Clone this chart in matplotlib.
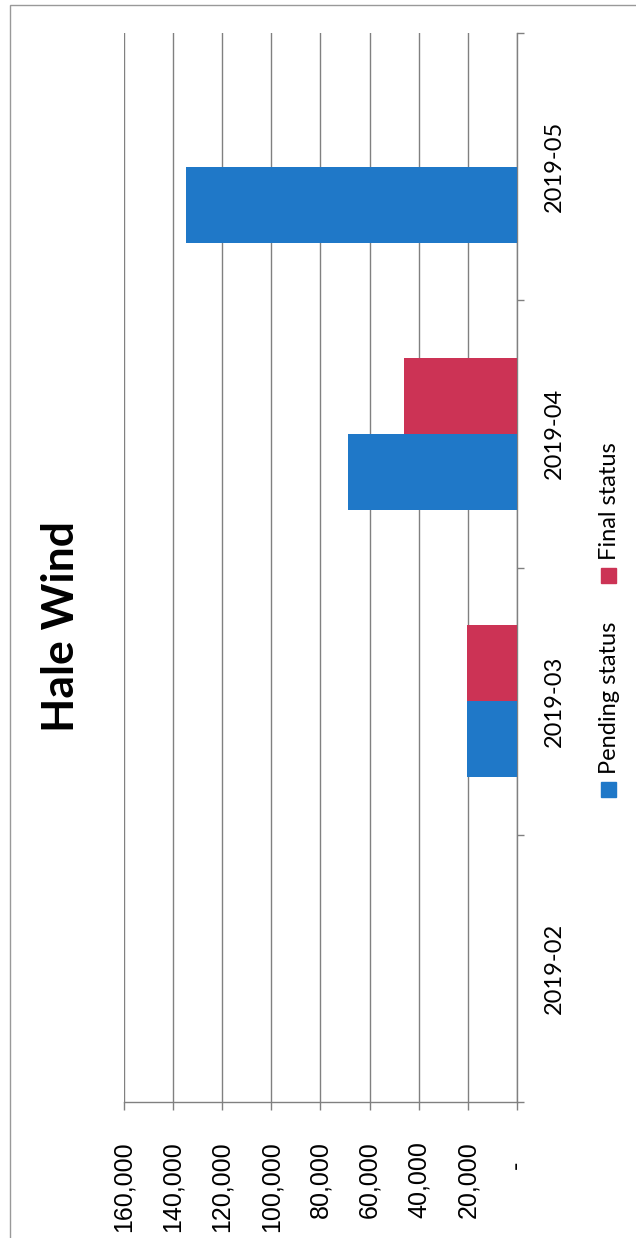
import matplotlib.pyplot as plt
from matplotlib.patches import Rectangle
import numpy as np

months = ['2019-02', '2019-03', '2019-04', '2019-05']
pending = [0, 20300, 68700, 134500]
final = [0, 20500, 45900, 0]
series_names = ['Pending status', 'Final status']
colors = ['#1F78C8', '#CC3355']
value_ticks = [0, 20000, 40000, 60000, 80000, 100000, 120000, 140000, 160000]
value_labels = ['-   ', '20,000', '40,000', '60,000', '80,000',
                '100,000', '120,000', '140,000', '160,000']

W, H = 636, 1238
fig = plt.figure(figsize=(W / 100, H / 100), dpi=100)

# scanned chart frame
fig.add_artist(Rectangle((10 / W, -0.05), 1.2, 1 - 5 / H + 0.05,
                         transform=fig.transFigure, fill=False,
                         edgecolor='#999999', linewidth=1.0))

# the chart is a column chart turned 90 degrees, so draw it as barh
ax = fig.add_axes([123.7 / W, 1 - 1102 / H, (517 - 123.7) / W, (1102 - 33) / H])
y = np.arange(len(months))
bw = 0.285
ax.barh(y - bw / 2, pending, height=bw, color=colors[0], zorder=3)
ax.barh(y + bw / 2, final, height=bw, color=colors[1], zorder=3)

ax.set_xlim(160000, 0)
ax.set_ylim(-0.5, len(months) - 0.5)
ax.set_xticks(value_ticks)
ax.set_xticklabels(value_labels, rotation=90, fontsize=18, family='Liberation Sans')
ax.tick_params(axis='x', length=6, width=1, color='#808080', pad=22)
ax.grid(axis='x', color='#808080', linewidth=1.0, zorder=0)

ax.yaxis.tick_right()
ax.set_yticks(np.arange(len(months) + 1) - 0.5)
ax.set_yticklabels([])
ax.set_yticks(y, minor=True)
ax.set_yticklabels(months, minor=True, rotation=90, va='center', ha='left',
                   fontsize=17, family='Lato')
ax.tick_params(axis='y', which='major', length=5, width=1, color='#808080')
ax.tick_params(axis='y', which='minor', length=0, pad=19)

for side in ['left', 'top']:
    ax.spines[side].set_visible(False)
for side in ['right', 'bottom']:
    ax.spines[side].set_color('#808080')
    ax.spines[side].set_linewidth(1.0)

fig.text(61 / W, 1 - 626 / H, 'Hale Wind', rotation=90, ha='center', va='center',
         fontsize=32, fontweight='bold', family='Lato')

# legend drawn by hand because it is rotated
sq = 15
for name, col, ysq in zip(series_names, colors, [789, 575]):
    fig.add_artist(Rectangle(((608 - sq / 2) / W, 1 - (ysq + sq / 2) / H), sq / W, sq / H,
                             transform=fig.transFigure, color=col))
    fig.text(609 / W, 1 - (ysq - 15) / H, name, rotation=90, ha='center', va='bottom',
             fontsize=17, family='Lato')

fig.savefig('out.png', dpi=100, facecolor='white')
